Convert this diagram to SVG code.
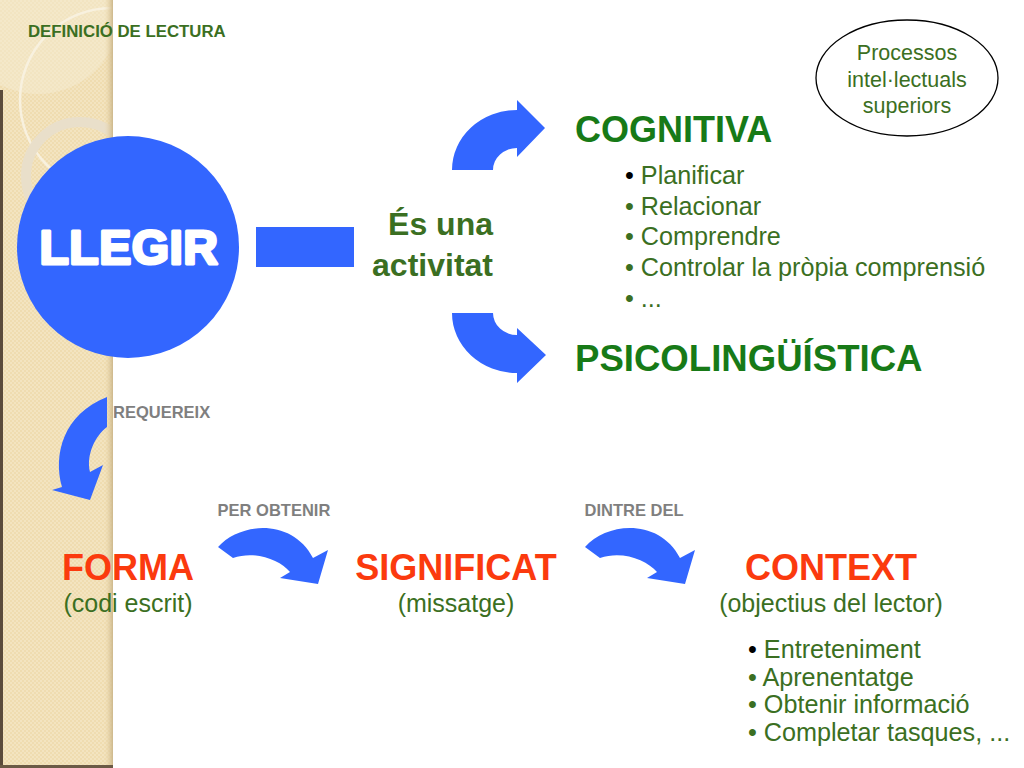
<svg xmlns="http://www.w3.org/2000/svg" width="1024" height="768" viewBox="0 0 1024 768">
<defs>
<style>
.t{font-family:"Liberation Sans",Arial,sans-serif}
.b{font-weight:bold}
.g{fill:#3b6f22}
.hg{fill:#177a17}
.red{fill:#fb3a0e}
.gray{fill:#7f7f7f}
.blue{fill:#3366ff}
</style>
<pattern id="dots" width="4" height="4" patternUnits="userSpaceOnUse">
<rect width="4" height="4" fill="#efdcb0"/>
<circle cx="1" cy="1" r="0.9" fill="#f5e8c8"/>
<circle cx="3" cy="3" r="0.9" fill="#f5e8c8"/>
</pattern>
<linearGradient id="edge" x1="0" x2="1" y1="0" y2="0">
<stop offset="0" stop-color="#efdcb0" stop-opacity="0"/>
<stop offset="1" stop-color="#cdb88c"/>
</linearGradient>
<clipPath id="strip"><rect x="0" y="0" width="113" height="768"/></clipPath>
<path id="hArrow" d="M218,547 C240,522 292,518 313,558 L328,550 L318,584 L280,578 L290,572 C280,560 255,550 233,558 Z"/>
</defs>
<rect width="1024" height="768" fill="#ffffff"/>
<g id="background-strip">
<rect x="0" y="0" width="113" height="768" fill="url(#dots)"/>
<g clip-path="url(#strip)">
<circle cx="38" cy="12" r="82" fill="#f6ebd2" opacity="0.5"/>
<circle cx="112" cy="100" r="92" fill="none" stroke="#f8f1df" stroke-width="2.5"/>
<circle cx="80" cy="176" r="54" fill="none" stroke="#e9dfca" stroke-width="10"/>
</g>
<rect x="104" y="0" width="9" height="768" fill="url(#edge)"/>
<rect x="0" y="90" width="3" height="678" fill="#5b4b3b"/>
<rect x="0" y="765" width="113" height="3" fill="#6b5a45"/>
</g>
<text class="t b g" x="28" y="37" font-size="16.8">DEFINICIÓ DE LECTURA</text>
<g id="connectors" class="blue">
<rect id="equals-bar" x="256" y="227" width="98" height="40"/>
<path id="arrow-cognitiva" d="M452,170 A65,60 0 0 1 517,110 L517,100 L545,128 L517,157 L517,148 A24,22 0 0 0 493,170 Z"/>
<path id="arrow-psico" d="M452,313 A65,60 0 0 0 517,373 L517,383 L546,355 L517,328 L517,335 A24,22 0 0 1 493,313 Z"/>
<path id="arrow-requereix" d="M107,397 L107,427 C95,436 86,455 90,472 L103,465 L90,500 L52,490 L62,487 C53,455 63,414 107,397 Z"/>
<use id="arrow-per-obtenir" href="#hArrow"/>
<use id="arrow-dintre-del" href="#hArrow" transform="translate(367,0)"/>
<text class="t b gray" x="113" y="418" font-size="16.5">REQUEREIX</text>
<text class="t b gray" x="274" y="516" font-size="16.5" text-anchor="middle">PER OBTENIR</text>
<text class="t b gray" x="634" y="516" font-size="16.5" text-anchor="middle">DINTRE DEL</text>
</g>
<g id="node-llegir">
<circle cx="128" cy="247" r="111" fill="#3366ff"/>
<text class="t b" x="129" y="264" font-size="48" fill="#ffffff" stroke="#ffffff" stroke-width="3" stroke-linejoin="round" text-anchor="middle" letter-spacing="0.5">LLEGIR</text>
</g>
<g id="node-activitat" class="t b g" font-size="32" text-anchor="end">
<text x="493" y="235">És una</text>
<text x="493" y="276">activitat</text>
</g>
<g id="node-ellipse">
<ellipse cx="907" cy="78" rx="91" ry="58" fill="#ffffff" stroke="#000000" stroke-width="1.3"/>
<g class="t g" font-size="21.5" text-anchor="middle">
<text x="907" y="60">Processos</text>
<text x="907" y="87">intel·lectuals</text>
<text x="907" y="113">superiors</text>
</g>
</g>
<g id="node-cognitiva">
<text class="t b hg" x="575" y="142" font-size="36">COGNITIVA</text>
<g class="t g" font-size="25.2">
<text x="625" y="184"><tspan fill="#000000">•</tspan> Planificar</text>
<text x="625" y="215">• Relacionar</text>
<text x="625" y="245">• Comprendre</text>
<text x="625" y="276">• Controlar la pròpia comprensió</text>
<text x="625" y="307">• ...</text>
</g>
</g>
<g id="node-psico">
<text class="t b hg" x="575" y="371" font-size="36.6">PSICOLINGÜÍSTICA</text>
</g>
<g id="node-forma" class="t" text-anchor="middle">
<text class="b red" x="128" y="580" font-size="36">FORMA</text>
<text class="g" x="128" y="612" font-size="25">(codi escrit)</text>
</g>
<g id="node-significat" class="t" text-anchor="middle">
<text class="b red" x="456" y="580" font-size="36">SIGNIFICAT</text>
<text class="g" x="456" y="612" font-size="25">(missatge)</text>
</g>
<g id="node-context" class="t">
<text class="b red" x="831" y="580" font-size="36" text-anchor="middle">CONTEXT</text>
<text class="g" x="831" y="612" font-size="25" text-anchor="middle">(objectius del lector)</text>
<g class="g" font-size="25.2">
<text x="748" y="658"><tspan fill="#000000">•</tspan> Entreteniment</text>
<text x="748" y="686">• Aprenentatge</text>
<text x="748" y="713">• Obtenir informació</text>
<text x="748" y="741">• Completar tasques, ...</text>
</g>
</g>
</svg>
